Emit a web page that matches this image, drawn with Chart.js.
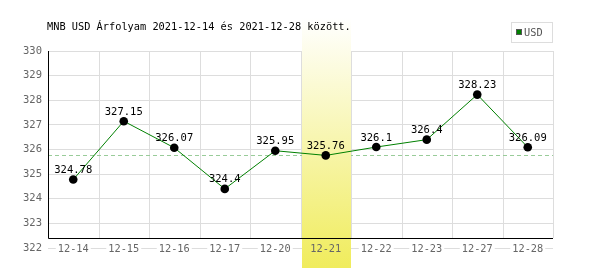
<!DOCTYPE html>
<html>
<head>
<meta charset="utf-8">
<script src="https://cdn.jsdelivr.net/npm/chart.js@4.4.0/dist/chart.umd.min.js"></script>
<style>
  body { margin: 0; background: #fff; }
  canvas { display: block; }
</style>
</head>
<body>
<canvas id="rateChart" width="600" height="270"></canvas>
<script>
/* DATA */
var dates = ["12-14", "12-15", "12-16", "12-17", "12-20", "12-21", "12-22", "12-23", "12-27", "12-28"];
var usdRates = [324.78, 327.15, 326.07, 324.4, 325.95, 325.76, 326.1, 326.4, 328.23, 326.09];
var yMin = 322;
var yMax = 330;
var highlightIndex = 5;
var refRate = 325.76;
var titleText = "MNB USD Árfolyam 2021-12-14 és 2021-12-28 között.";
var legendText = "USD";

var monoFont = "'DejaVu Sans Mono', 'Liberation Mono', monospace";

/* DECORATIONS: band, axes, x labels, values, title, legend */
var decorPlugin = {
    id: "decor",
    beforeDatasetsDraw: function(chart) {
        var ctx = chart.ctx;
        var xs = chart.scales.x;
        var ys = chart.scales.y;
        var area = chart.chartArea;
        var step = (area.right - area.left) / dates.length;
        var axisY = ys.getPixelForValue(yMin) - 10;

        ctx.save();
        // vertical grid lines
        ctx.strokeStyle = "#dddddd";
        ctx.lineWidth = 1;
        for (var i = 1; i <= dates.length; i++) {
            var gx = Math.round(area.left + i * step) + 0.5;
            ctx.beginPath();
            ctx.moveTo(gx, area.top);
            ctx.lineTo(gx, axisY);
            ctx.stroke();
        }

        // reference dashed line
        var ry = Math.round(ys.getPixelForValue(refRate)) + 0.5;
        ctx.strokeStyle = "#99cc99";
        ctx.setLineDash([4, 3]);
        ctx.beginPath();
        ctx.moveTo(area.left, ry);
        ctx.lineTo(area.right, ry);
        ctx.stroke();
        ctx.setLineDash([]);

        // white boxes behind x labels
        ctx.font = "10.3px " + monoFont;
        dates.forEach(function(d, idx) {
            var lx = xs.getPixelForValue(idx);
            var w = ctx.measureText(d).width;
            ctx.fillStyle = "#ffffff";
            ctx.fillRect(lx - w / 2 - 2, ys.getPixelForValue(yMin) - 6, w + 4, 12);
        });

        // highlight band
        var bx0 = Math.round(area.left + highlightIndex * step) + 1;
        var bx1 = Math.round(area.left + (highlightIndex + 1) * step);
        var grad = ctx.createLinearGradient(0, 18, 0, 268);
        grad.addColorStop(0, "#ffffff");
        grad.addColorStop(1, "#f0ec5c");
        ctx.fillStyle = grad;
        ctx.fillRect(bx0, 18, bx1 - bx0, 250);

        // axes
        ctx.strokeStyle = "#000000";
        ctx.beginPath();
        ctx.moveTo(area.left + 0.5, area.top);
        ctx.lineTo(area.left + 0.5, axisY + 0.5);
        ctx.lineTo(area.right, axisY + 0.5);
        ctx.stroke();

        // x labels
        ctx.fillStyle = "#666666";
        ctx.textAlign = "center";
        ctx.textBaseline = "middle";
        dates.forEach(function(d, idx) {
            ctx.fillText(d, xs.getPixelForValue(idx), ys.getPixelForValue(yMin) + 1);
        });

        // title
        ctx.fillStyle = "#000000";
        ctx.textAlign = "left";
        ctx.fillText(titleText, 47, 27);

        // legend
        ctx.strokeStyle = "#dddddd";
        ctx.strokeRect(511.5, 22.5, 41, 20);
        ctx.fillStyle = "#008000";
        ctx.fillRect(516, 29, 6, 6);
        ctx.strokeStyle = "#555555";
        ctx.strokeRect(516.5, 29.5, 5, 5);
        ctx.fillStyle = "#555555";
        ctx.fillText(legendText, 524, 33);
        ctx.restore();
    },
    afterDatasetsDraw: function(chart) {
        var ctx = chart.ctx;
        var meta = chart.getDatasetMeta(0);
        ctx.save();
        ctx.font = "10.5px " + monoFont;
        ctx.fillStyle = "#000000";
        ctx.textAlign = "center";
        ctx.textBaseline = "bottom";
        meta.data.forEach(function(pt, idx) {
            ctx.fillText(String(usdRates[idx]), pt.x, pt.y - 4);
        });
        ctx.restore();
    }
};

var ctx = document.getElementById("rateChart").getContext("2d");
var rateChart = new Chart(ctx, {
    type: "line",
    data: {
        labels: dates,
        datasets: [{
            label: legendText,
            data: usdRates,
            borderColor: "#008000",
            borderWidth: 1,
            tension: 0,
            pointRadius: 4.3,
            pointBackgroundColor: "#000000",
            pointBorderWidth: 0,
            fill: false
        }]
    },
    options: {
        responsive: false,
        animation: false,
        layout: { padding: { top: 51, right: 47, left: 0, bottom: 0 } },
        plugins: {
            legend: { display: false },
            tooltip: { enabled: false },
            title: { display: false }
        },
        scales: {
            x: {
                offset: true,
                grid: { display: false },
                border: { display: false },
                ticks: { display: false },
                afterFit: function(scale) { scale.height = 22; }
            },
            y: {
                min: yMin,
                max: yMax,
                ticks: {
                    stepSize: 1,
                    color: "#666666",
                    padding: 6,
                    font: { family: monoFont, size: 10.5 }
                },
                grid: { color: "#dddddd", drawTicks: false },
                border: { display: false },
                afterFit: function(scale) { scale.width = 48; }
            }
        }
    },
    plugins: [decorPlugin]
});
</script>
</body>
</html>
